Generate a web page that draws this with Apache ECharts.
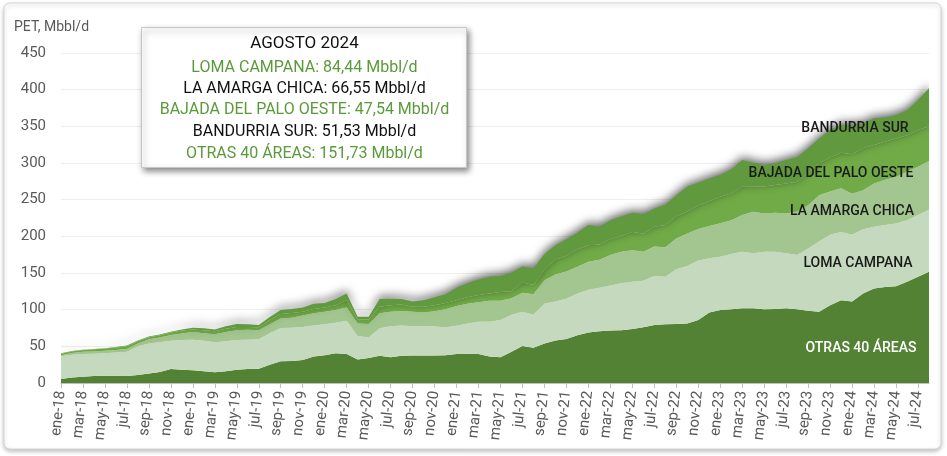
<!DOCTYPE html>
<html>
<head>
<meta charset="utf-8">
<script src="https://cdn.jsdelivr.net/npm/echarts@6/dist/echarts.min.js"></script>
<style>
  html, body { margin: 0; padding: 0; background: #fff; }
  #chart { width: 947px; height: 456px; }
</style>
</head>
<body>
<div id="chart"></div>
<script>
// Months (Spanish) and years for the category axis
var meses = ['ene', 'feb', 'mar', 'abr', 'may', 'jun', 'jul', 'ago', 'sep', 'oct', 'nov', 'dic'];
var anios = ['18', '19', '20', '21', '22', '23', '24'];
var ultimoMes = 8; // data ends in ago-24

var categorias = [];
for (var a = 0; a < anios.length; a++) {
    for (var m = 0; m < 12; m++) {
        if (a == anios.length - 1 && m >= ultimoMes) break;
        categorias.push(meses[m] + '-' + anios[a]);
    }
}

// Series values, Mbbl/d (bottom to top of the stack)
var otras = [5.4, 7.5, 8.6, 9.5, 10, 10, 9.5, 11, 13, 15,
    19, 18, 17.5, 16, 14.5, 16, 18, 19, 19.5, 25,
    29.5, 30, 31.5, 36, 38, 40.5, 39.5, 32, 34, 37,
    35, 37, 37.5, 37.5, 37.5, 38, 39.5, 40, 39.5, 36,
    35, 42.5, 50.5, 48, 54, 58, 60, 65, 69, 70.5,
    71.5, 72, 73.5, 76, 79, 80, 80.5, 81, 86, 96,
    99.5, 100.5, 102, 102, 100.5, 101, 102, 100.5, 98.5, 97,
    106, 113, 111, 122, 129, 131, 132, 138, 145, 151.73];

var lomaCampana = [31.1, 31, 30.9, 30.5, 30.5, 31.5, 33, 39, 41, 40.5,
    38.5, 40.5, 41.5, 41.5, 41, 41, 40.5, 40, 40, 43,
    45.5, 45.5, 45, 42.5, 42, 41.5, 45.5, 32, 28, 37.5,
    42.5, 41.5, 40, 40, 39.5, 38, 38.5, 41, 44, 47.5,
    51, 50.5, 46.5, 45, 54, 53, 55, 57, 58, 59.5,
    61.5, 64, 64.5, 63.5, 67, 65, 74.5, 78.5, 81, 74,
    72.5, 75.5, 77, 75, 78.5, 78, 75, 74, 85, 96,
    96, 93, 91, 87.5, 84, 84.5, 85.5, 84, 84, 84.44];

var laAmargaChica = [1.5, 2.5, 3, 3, 3.5, 3.5, 4, 4, 5.5, 6.5,
    8, 9, 10.5, 10.5, 11, 12.5, 13.5, 13.5, 12.5, 12,
    13, 13.5, 15.5, 16.5, 17, 17.5, 18, 17, 18.5, 20.5,
    19.5, 19.5, 19.5, 18.5, 21, 24.5, 27, 27, 26.5, 28.5,
    26, 22.5, 26, 28, 32, 37, 37, 36.5, 38.5, 38,
    41.5, 43, 43, 39.5, 40, 40, 42, 44.5, 43, 44,
    46, 46, 50, 56.5, 52, 53, 54, 59, 59, 63,
    59, 59.5, 56, 53.5, 59, 61.5, 63.5, 66, 66, 66.55];

var bajadaPaloOeste = [2, 2, 2.5, 3, 3, 3.5, 3.5, 3, 3, 3,
    3.5, 4, 3.5, 4, 4, 4.5, 4.5, 4, 4, 6,
    6, 6.5, 5, 6, 6, 6.5, 10, 6, 6, 9,
    9, 9, 7, 8, 8, 8.5, 8, 9, 10, 10,
    12, 9.5, 14, 12.5, 14, 20, 21.5, 23.5, 22.5, 21,
    21.5, 21.5, 25, 25, 27, 30.5, 30, 30, 32, 34,
    36, 36.5, 38.5, 34, 37, 38, 41, 41, 43.5, 43.5,
    46.5, 48.5, 54, 57, 52.5, 52, 52.5, 50, 50, 47.54];

var bandurriaSur = [0.5, 0.5, 0.5, 0.5, 0.5, 0.5, 1, 1, 1, 1,
    1, 1.5, 2.5, 2.5, 2.5, 3.5, 4, 3.5, 3, 4,
    5.5, 5.5, 6, 7, 6, 8.5, 9, 3.5, 4, 10.5,
    9, 7.5, 7, 9, 11, 12, 17, 19, 21, 23,
    22, 25.5, 22, 22.5, 22, 20, 22.5, 23, 27.5, 24,
    26, 26.5, 26, 26, 25, 27.5, 29, 34, 31, 31,
    30, 32.5, 36.5, 33, 29, 29.5, 32, 33.5, 34, 34,
    37.5, 38, 40, 34, 36.5, 33, 32, 34, 41, 51.53];

var nombres = ['OTRAS 40 ÁREAS', 'LOMA CAMPANA', 'LA AMARGA CHICA', 'BAJADA DEL PALO OESTE', 'BANDURRIA SUR'];
var valores = [otras, lomaCampana, laAmargaChica, bajadaPaloOeste, bandurriaSur];
var colores = ['#548235', '#c5d9be', '#a3c58f', '#70ab47', '#619a3e'];

var chart = echarts.init(document.getElementById('chart'));

var series = [];
for (var i = 0; i < nombres.length; i++) {
    var s = {
        name: nombres[i],
        type: 'line',
        stack: 'total',
        data: valores[i],
        symbol: 'none',
        lineStyle: { width: 0 },
        itemStyle: { color: colores[i] },
        areaStyle: { color: colores[i], opacity: 1 }
    };
    // soft shadow on top edge of the stack
    if (i == nombres.length - 1) {
        s.areaStyle.shadowColor = 'rgba(0,0,0,0.6)';
        s.areaStyle.shadowBlur = 10;
        s.areaStyle.shadowOffsetY = -3;
    }
    series.push(s);
}

var fuente = 'Roboto, "DejaVu Sans", sans-serif';
var verde = '#5b9a3a';

// text rows of the summary box
var cajaTextos = [
    ['AGOSTO 2024', '#111', 17, 16],
    ['LOMA CAMPANA: 84,44 Mbbl/d', verde, 16, 40],
    ['LA AMARGA CHICA: 66,55 Mbbl/d', '#111', 16, 61],
    ['BAJADA DEL PALO OESTE: 47,54 Mbbl/d', verde, 16, 82],
    ['BANDURRIA SUR: 51,53 Mbbl/d', '#111', 16, 104],
    ['OTRAS 40 ÁREAS: 151,73 Mbbl/d', verde, 16, 126]
];
var caja = [{
    type: 'rect', z: 100, shape: { x: 0, y: 0, width: 325, height: 140 },
    style: { fill: '#fff', stroke: '#c8c8c8', lineWidth: 1, shadowColor: 'rgba(0,0,0,0.45)', shadowBlur: 6, shadowOffsetX: 2, shadowOffsetY: 3 }
}];
cajaTextos.forEach(function (t) {
    caja.push({ type: 'text', z: 101, x: 163, y: t[3],
        style: { text: t[0], fill: t[1], font: t[2] + 'px ' + fuente, textAlign: 'center', textVerticalAlign: 'middle' } });
});

// series labels at the right
var etiquetas = [
    ['BANDURRIA SUR', '#1a1a1a', 855, 128],
    ['BAJADA DEL PALO OESTE', '#1a1a1a', 831, 173],
    ['LA AMARGA CHICA', '#1a1a1a', 852, 211],
    ['LOMA CAMPANA', '#1a1a1a', 858, 263],
    ['OTRAS 40 ÁREAS', '#ffffff', 861, 348]
];

var graficos = [
    {
        type: 'rect', z: -1, silent: true,
        shape: { x: 4, y: 3, width: 937, height: 446, r: 6 },
        style: { fill: '#fff', stroke: '#d6d6d6', lineWidth: 1, shadowColor: 'rgba(0,0,0,0.25)', shadowBlur: 4, shadowOffsetY: 2 }
    },
    {
        type: 'text', left: 14, top: 20,
        style: { text: 'PET, Mbbl/d', fill: '#595959', font: '14px ' + fuente }
    },
    { type: 'group', left: 141, top: 27, z: 100, children: caja }
];
etiquetas.forEach(function (e) {
    graficos.push({ type: 'text', x: e[2], y: e[3], z: 100,
        style: { text: e[0], fill: e[1], font: '500 14px ' + fuente, textAlign: 'center', textVerticalAlign: 'middle' } });
});

var option = {
    animation: false,
    grid: { left: 61, right: 18, top: 53, bottom: 73 },
    xAxis: {
        type: 'category',
        data: categorias,
        boundaryGap: false,
        axisLine: { lineStyle: { color: '#bfbfbf' } },
        axisTick: { interval: 1, length: 5, lineStyle: { color: '#bfbfbf' } },
        axisLabel: { interval: 1, rotate: 84, color: '#595959', fontSize: 15, fontFamily: fuente, margin: 8 }
    },
    yAxis: {
        type: 'value',
        min: 0,
        max: 450,
        interval: 50,
        axisLine: { show: false },
        axisTick: { show: false },
        axisLabel: { color: '#595959', fontSize: 15, fontFamily: fuente, margin: 15 },
        splitLine: { lineStyle: { color: '#efefef' } }
    },
    series: series,
    graphic: graficos
};

chart.setOption(option);
</script>
</body>
</html>
